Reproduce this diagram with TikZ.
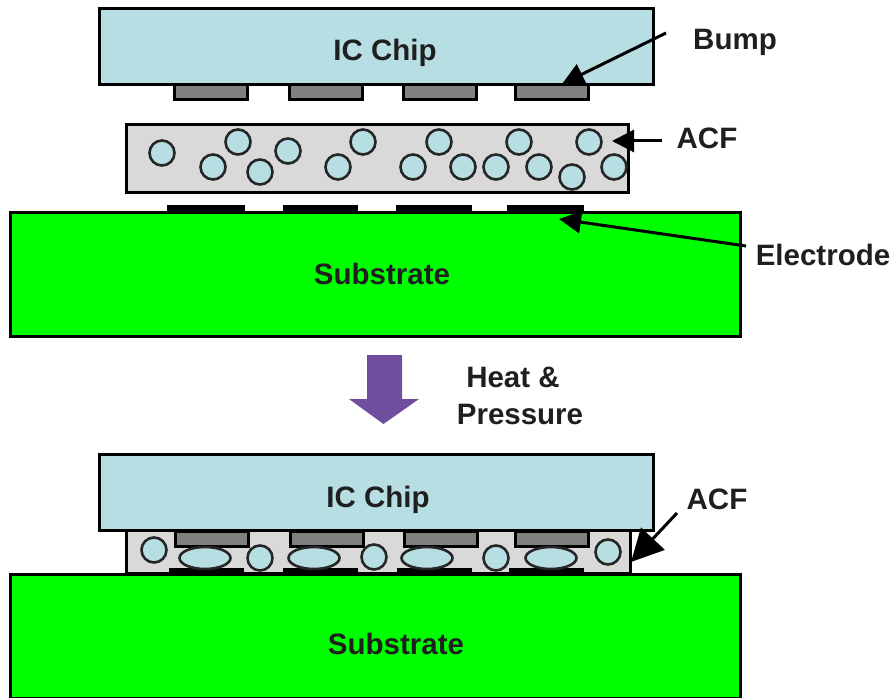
\documentclass[tikz,border=0pt]{standalone}
\usepackage{fontspec}
\setmainfont{Liberation Sans}
\usetikzlibrary{arrows.meta}
\usetikzlibrary{shapes.geometric}
\definecolor{chipblue}{HTML}{B7DEE3}
\definecolor{bumpgrey}{HTML}{808080}
\definecolor{acfgrey}{HTML}{D9D9D9}
\definecolor{subgreen}{HTML}{00FF00}
\definecolor{flowpurple}{HTML}{6F4E9E}
\tikzset{
  blockbox/.style={draw=black,line width=3pt,inner sep=0pt,outer sep=0pt,minimum width=#1},
  blockbox/.default=10pt,
  chipbox/.style={blockbox=554pt,fill=chipblue,minimum height=76pt},
  bumpbox/.style={blockbox=73pt,fill=bumpgrey,minimum height=15pt},
  acfbox/.style={draw=black,line width=3pt,fill=acfgrey,inner sep=0pt,outer sep=0pt},
  padbox/.style={fill=black,inner sep=0pt,outer sep=0pt,minimum height=7pt},
  subbox/.style={blockbox=730pt,fill=subgreen},
  ball/.style={circle,draw=black!85,line width=2.6pt,fill=chipblue,minimum size=25pt,inner sep=0pt},
  squashed/.style={ellipse,draw=black!85,line width=2.6pt,fill=chipblue,minimum width=51pt,minimum height=22pt,inner sep=0pt},
  caption/.style={font=\fontsize{29.5}{33}\selectfont\bfseries,text=black!88,inner sep=0pt},
  pointer/.style={line width=3pt,-{Triangle[length=#1,width=#1]}},
  pointer/.default=22pt
}
\begin{document}
\begin{tikzpicture}[x=1pt,y=-1pt]
\useasboundingbox (0,0) rectangle (894,698);
% upper assembly: bumps, chip
\foreach \n/\x in {1/211,2/326,3/440,4/552}
  \node[bumpbox] (ub\n) at (\x,92.5) {};
\node[chipbox] (chipa) at (376,47) {};
\node[caption] (chipatxt) at (385,53) {IC Chip};
% upper ACF film
\node[acfbox,minimum width=502pt,minimum height=68pt] (acfa) at (377.5,158.5) {};
\foreach \n/\x/\y in {1/162/153,2/238/142,3/213/167,4/260/172,5/288/151,6/363/142,7/338/167,8/439/142,9/413/167,10/463/167,11/496/167,12/519/142,13/539/167,14/572/177,15/589/142,16/614/167}
  \node[ball] (pa\n) at (\x,\y) {};
% upper electrodes, substrate
\foreach \n/\x/\w in {1/206/78,2/320.5/75,3/434/76,4/545.5/77}
  \node[padbox,minimum width=\w pt] (ea\n) at (\x,208.5) {};
\node[subbox,minimum height=124pt] (suba) at (375,274.5) {};
\node[caption] (subatxt) at (382,274) {Substrate};
% process arrow
\fill[flowpurple] (367,355) -- (402,355) -- (402,399) -- (419,399) -- (383.5,424) -- (349,399) -- (367,399) -- cycle;
\node[caption] (heat) at (513,377) {Heat \&};
\node[caption] (press) at (520,414) {Pressure};
% lower assembly
\node[acfbox,minimum width=504pt,minimum height=43pt] (acfb) at (378.5,552) {};
\foreach \n/\x/\w in {1/206.5/75,2/320.5/75,3/434.5/75,4/546.5/75}
  \node[padbox,minimum width=\w pt] (eb\n) at (\x,571) {};
\foreach \n/\x in {1/211.5,2/326.5,3/440.5,4/551.5}
  \node[bumpbox] (bb\n) at (\x,538.5) {};
\node[chipbox] (chipb) at (376,492) {};
\node[caption] (chipbtxt) at (378,500) {IC Chip};
\foreach \n/\x/\y in {1/154/550,2/260/558,3/374/557,4/496/558,5/608/552}
  \node[ball] (pb\n) at (\x,\y) {};
\foreach \n/\x in {1/205,2/314,3/427,4/551}
  \node[squashed] (qb\n) at (\x,558) {};
\node[subbox,minimum height=124pt] (subb) at (375,636) {};
\node[caption] (subbtxt) at (396,644) {Substrate};
% pointers
\node[caption] (bumptxt) at (735,42) {Bump};
\node[caption] (acfatxt) at (707,138) {ACF};
\node[caption] (electxt) at (823,255) {Electrode};
\node[caption] (acfbtxt) at (717,499) {ACF};
\coordinate (bumpfrom) at (666,33);
\coordinate (bumpto) at (562,84);
\coordinate (acffrom) at (662,141);
\coordinate (acfto) at (612,141);
\coordinate (elecfrom) at (746,246);
\coordinate (elecno) at (559,219);
\coordinate (acfbfrom) at (677,513);
\coordinate (acfbto) at (631,562);
\draw[pointer] (bumpfrom) -- (bumpto);
\draw[pointer] (acffrom) -- (acfto);
\draw[pointer] (elecfrom) -- (elecno);
\draw[pointer=32pt] (acfbfrom) -- (acfbto);
\end{tikzpicture}
\end{document}
